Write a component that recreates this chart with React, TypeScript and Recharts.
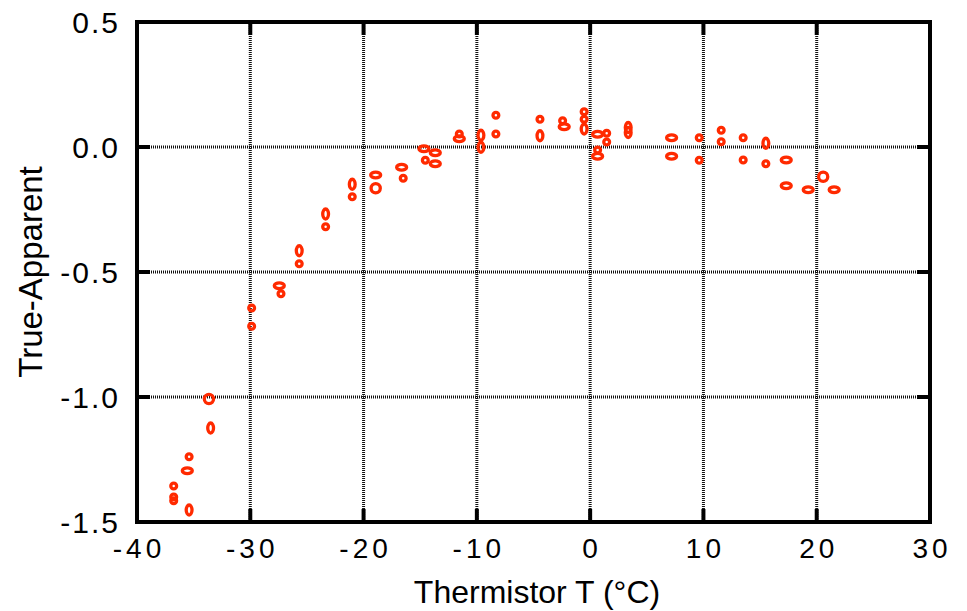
import React from 'react';
import {
  ScatterChart,
  Scatter,
  XAxis,
  YAxis,
  CartesianGrid,
  ReferenceArea
} from 'recharts';

// thermistor temperature (°C)
const tempC = [
  -33.65, -33.5, -35.4, -35.56, -36.76, -36.76, -36.76, -35.4,
  -29.88, -29.88, -27.44, -27.29, -25.68, -25.68, -23.35, -23.35,
  -21.0, -21.0, -18.93, -18.93, -16.64, -16.5, -14.67, -14.55,
  -13.67, -13.67, -11.55, -11.55, -9.64, -9.64, -8.32, -8.32,
  -4.43, -4.43, -2.43, -2.29, -0.53, -0.53, -0.53, 0.66,
  1.46, 1.46, 0.66, 0.66, 3.36, 3.36, 7.19, 7.19,
  9.63, 9.63, 11.57, 11.57, 13.51, 13.51, 15.51, 15.51,
  17.31, 17.31, 19.25, 20.57, 21.54
];

// true minus apparent
const diff = [
  -1.008, -1.124, -1.239, -1.295, -1.356, -1.4, -1.415, -1.452,
  -0.644, -0.717, -0.555, -0.587, -0.415, -0.467, -0.268, -0.319,
  -0.149, -0.199, -0.112, -0.165, -0.081, -0.125, -0.007, -0.053,
  -0.023, -0.067, 0.052, 0.033, 0.047, -0.001, 0.127, 0.052,
  0.111, 0.045, 0.105, 0.081, 0.141, 0.111, 0.072, 0.051,
  0.055, 0.02, -0.012, -0.037, 0.078, 0.058, 0.037, -0.037,
  0.037, -0.053, 0.067, 0.021, 0.037, -0.052, 0.015, -0.067,
  -0.052, -0.155, -0.171, -0.119, -0.171
];

// marker kind: o small circle, O big circle, h wide ellipse, v tall ellipse
const kind = [
  'O', 'v', 'o', 'h', 'o', 'o', 'o', 'v',
  'o', 'o', 'h', 'o', 'v', 'o', 'v', 'o',
  'v', 'o', 'h', 'O', 'h', 'o', 'h', 'o',
  'h', 'h', 'o', 'h', 'v', 'v', 'o', 'o',
  'o', 'v', 'o', 'h', 'o', 'o', 'v', 'h',
  'o', 'o', 'o', 'h', 'v', 'v', 'h', 'h',
  'o', 'o', 'o', 'o', 'o', 'o', 'v', 'o',
  'h', 'h', 'h', 'O', 'h'
];

const xTicks = [-40, -30, -20, -10, 0, 10, 20, 30];
const yTicks = [-1.5, -1.0, -0.5, 0.0, 0.5];

const data = tempC.map((t, i) => ({ t, d: diff[i], k: kind[i] }));

const RED = '#ff2a00';
const FONT = '"Liberation Sans", Arial, Helvetica, sans-serif';
const TOP = 22;
const BOTTOM = 522;
const LEFT = 137;
const RIGHT = 930;

const radii: Record<string, [number, number]> = {
  o: [2.9, 2.9],
  O: [4.6, 4.6],
  h: [5, 2.9],
  v: [2.9, 5]
};

const Marker = (props: any) => {
  const { cx, cy, payload } = props;
  const [rx, ry] = radii[payload.k] || radii.o;
  return (
    <ellipse cx={cx} cy={cy} rx={rx} ry={ry} fill="none" stroke={RED} strokeWidth={3.3} />
  );
};

const XTick = (props: any) => {
  const { x, payload } = props;
  return (
    <g>
      <line x1={x} x2={x} y1={BOTTOM} y2={BOTTOM - 13} stroke="#000" strokeWidth={4} />
      <line x1={x} x2={x} y1={TOP} y2={TOP + 13} stroke="#000" strokeWidth={4} />
      <text x={x + 2} y={558} textAnchor="middle" fontFamily={FONT} fontSize={28} letterSpacing={4} fill="#000">
        {payload.value}
      </text>
    </g>
  );
};

const YTick = (props: any) => {
  const { y, payload } = props;
  return (
    <g>
      <line x1={LEFT} x2={LEFT + 13} y1={y} y2={y} stroke="#000" strokeWidth={4} />
      <line x1={RIGHT} x2={RIGHT - 13} y1={y} y2={y} stroke="#000" strokeWidth={4} />
      <text x={120} y={y + 11} textAnchor="end" fontFamily={FONT} fontSize={30} letterSpacing={2} fill="#000">
        {payload.value.toFixed(1)}
      </text>
    </g>
  );
};

export default function App() {
  return (
    <div style={{ position: 'absolute', left: 0, top: 0, background: '#fff' }}>
      <ScatterChart
        width={967}
        height={611}
        margin={{ top: TOP, right: 967 - RIGHT, bottom: 0, left: 0 }}
      >
        <CartesianGrid stroke="#111" strokeWidth={3} strokeDasharray="1 1" />
        <XAxis
          type="number"
          dataKey="t"
          domain={[-40, 30]}
          ticks={xTicks}
          height={611 - BOTTOM}
          axisLine={false}
          tickLine={false}
          tick={XTick}
          label={{
            content: () => (
              <text x={537} y={603} textAnchor="middle" fontFamily={FONT} fontSize={32} fill="#000">
                Thermistor T (°C)
              </text>
            )
          }}
        />
        <YAxis
          type="number"
          dataKey="d"
          domain={[-1.5, 0.5]}
          ticks={yTicks}
          width={LEFT}
          axisLine={false}
          tickLine={false}
          tick={YTick}
          label={{
            content: () => (
              <text
                x={30}
                y={272}
                transform="rotate(-90 30 272)"
                textAnchor="middle"
                dominantBaseline="central"
                fontFamily={FONT}
                fontSize={33}
                fill="#000"
              >
                True-Apparent
              </text>
            )
          }}
        />
        <ReferenceArea
          x1={-40}
          x2={30}
          y1={-1.5}
          y2={0.5}
          fill="none"
          fillOpacity={0}
          stroke="#000"
          strokeWidth={4}
          ifOverflow="visible"
        />
        <Scatter data={data} shape={Marker} isAnimationActive={false} />
      </ScatterChart>
    </div>
  );
}
